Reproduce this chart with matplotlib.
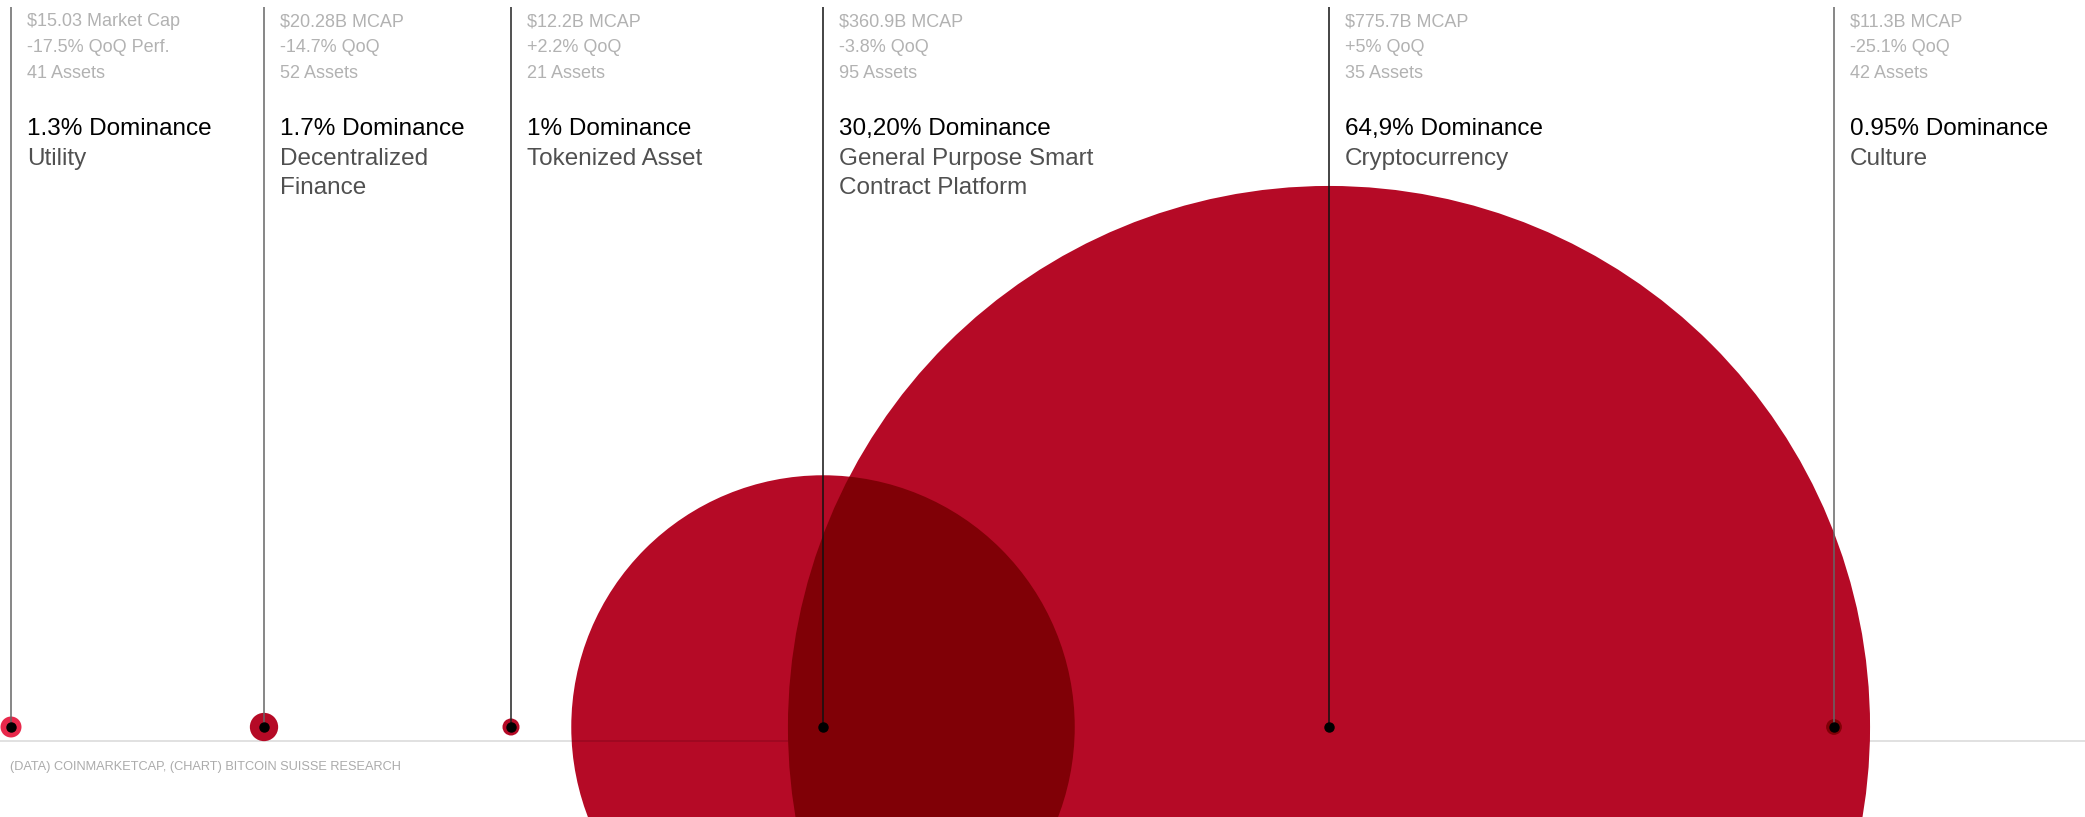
import matplotlib.pyplot as plt
import matplotlib.colors as mcolors
from matplotlib.patches import Circle
import numpy as np

plt.rcParams['font.family'] = ['Liberation Sans', 'DejaVu Sans']

# data
categories = ['Utility', 'Decentralized\nFinance', 'Tokenized Asset',
              'General Purpose Smart\nContract Platform', 'Cryptocurrency', 'Culture']
mcap_bn = [15.03, 20.28, 12.2, 360.9, 775.7, 11.3]
mcap_text = ['$15.03 Market Cap', '$20.28B MCAP', '$12.2B MCAP',
             '$360.9B MCAP', '$775.7B MCAP', '$11.3B MCAP']
qoq_text = ['-17.5% QoQ Perf.', '-14.7% QoQ', '+2.2% QoQ',
            '-3.8% QoQ', '+5% QoQ', '-25.1% QoQ']
assets = [41, 52, 21, 95, 35, 42]
dominance = ['1.3%', '1.7%', '1%', '30,20%', '64,9%', '0.95%']
source = '(DATA) COINMARKETCAP, (CHART) BITCOIN SUISSE RESEARCH'

# layout (pixel space)
W, H = 2085, 817
x_pos = [11, 264, 511, 823, 1329, 1834]
y_base = 727
px_per_bn = 0.6975
circle_colors = ['#E8284B', '#B50A26', '#B50A26', '#B50A26', '#B50A26', '#B50A26']
circle_z = [2, 2, 2, 1, 2, 2]
stem_colors = ['#666666', '#666666', '#222222', '#111111', '#111111', '#666666']

fig = plt.figure(figsize=(W / 100, H / 100), dpi=100)
ax = fig.add_axes([0, 0, 1, 1])
ax.set_xlim(0, W)
ax.set_ylim(H, 0)
ax.axis('off')

# baseline
ax.axhline(741, color='black', alpha=0.14, lw=1.2, zorder=1.5)

# bubbles, radius proportional to market cap
patches = []
for x, m, c, z in zip(x_pos, mcap_bn, circle_colors, circle_z):
    p = Circle((x, y_base), m * px_per_bn, facecolor=c, edgecolor='none', zorder=z)
    ax.add_patch(p)
    patches.append(p)


def multiply(c1, c2):
    a = np.array(mcolors.to_rgb(c1))
    b = np.array(mcolors.to_rgb(c2))
    return tuple(a * b)


# overlaps drawn as multiply blend
for i in range(len(patches)):
    for j in range(len(patches)):
        if i == j:
            continue
        ri, rj = patches[i].get_radius(), patches[j].get_radius()
        if ri > rj:
            continue
        if abs(x_pos[i] - x_pos[j]) < ri + rj:
            ov = Circle((x_pos[i], y_base), ri,
                        facecolor=multiply(circle_colors[i], circle_colors[j]),
                        edgecolor='none', zorder=2.5)
            ax.add_patch(ov)
            ov.set_clip_path(patches[j])

# stems, dots and labels
for k, x in enumerate(x_pos):
    ax.plot([x, x], [7, y_base], color=stem_colors[k], lw=1.1, zorder=3,
            solid_capstyle='butt')
    ax.plot(x, y_base, 'o', color='black', markersize=6.5, zorder=4)

    tx = x + 16
    ax.text(tx, 26, mcap_text[k], fontsize=13, color='#B2B2B2', va='baseline')
    ax.text(tx, 52, qoq_text[k], fontsize=13, color='#B2B2B2', va='baseline')
    ax.text(tx, 78, f'{assets[k]} Assets', fontsize=13, color='#B2B2B2', va='baseline')
    ax.text(tx, 135, f'{dominance[k]} Dominance', fontsize=17.5, color='black',
            va='baseline')
    for n, line in enumerate(categories[k].split('\n')):
        ax.text(tx, 165 + n * 29, line, fontsize=17.5, color='#505050', va='baseline')

ax.text(10, 770, source, fontsize=9.2, color='#ABABAB', va='baseline')

fig.savefig('out.png', dpi=100)
